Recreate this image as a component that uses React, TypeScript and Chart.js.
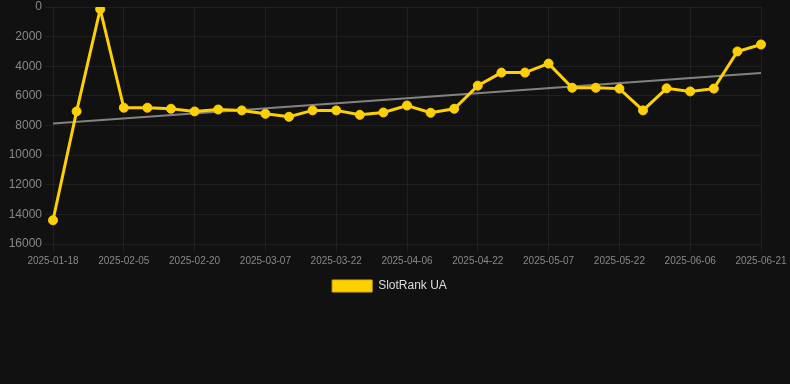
import React, { useEffect, useRef } from "react";
import { Chart, registerables } from "chart.js";

Chart.register(...registerables);

const labels = [
  "2025-01-18", "2025-01-24", "2025-01-30", "2025-02-05", "2025-02-10", "2025-02-15",
  "2025-02-20", "2025-02-25", "2025-03-02", "2025-03-07", "2025-03-12", "2025-03-17",
  "2025-03-22", "2025-03-27", "2025-04-01", "2025-04-06", "2025-04-11", "2025-04-17",
  "2025-04-22", "2025-04-27", "2025-05-02", "2025-05-07", "2025-05-12", "2025-05-17",
  "2025-05-22", "2025-05-27", "2025-06-01", "2025-06-06", "2025-06-11", "2025-06-16",
  "2025-06-21",
];

const rankValues = [
  14400, 7050, 150, 6800, 6800, 6870, 7050, 6920, 6980, 7210, 7410, 6980,
  6980, 7280, 7120, 6650, 7140, 6870, 5310, 4430, 4430, 3820, 5450, 5450,
  5510, 6980, 5490, 5700, 5510, 3000, 2530,
];

const trendStart = 7865;
const trendEnd = 4450;

const yTicks = [0, 2000, 4000, 6000, 8000, 10000, 12000, 14000, 16000];

export default function App() {
  const ref = useRef<HTMLCanvasElement | null>(null);

  useEffect(() => {
    document.body.style.margin = "0";
    document.body.style.background = "#111111";
    if (!ref.current) return;
    const trendData = labels.map((_, i) =>
      i === 0 ? trendStart : i === labels.length - 1 ? trendEnd : null
    );
    const defaultGen = Chart.defaults.plugins.legend.labels.generateLabels;
    const chart = new Chart(ref.current, {
      type: "line",
      data: {
        labels,
        datasets: [
          {
            label: "SlotRank UA",
            data: rankValues,
            borderColor: "#FFD000",
            backgroundColor: "#FFD000",
            borderWidth: 3,
            pointRadius: 4.5,
            pointBackgroundColor: "#FFD000",
            pointBorderColor: "#FFD000",
            pointBorderWidth: 1,
            tension: 0,
          },
          {
            label: "trend",
            data: trendData,
            borderColor: "rgba(150,150,150,0.85)",
            borderWidth: 2,
            pointRadius: 0,
            spanGaps: true,
            fill: false,
          },
        ],
      },
      options: {
        animation: false,
        responsive: false,
        maintainAspectRatio: false,
        layout: { padding: { left: 0, right: 11, top: 0, bottom: 0 } },
        plugins: {
          legend: {
            position: "bottom",
            labels: {
              color: "#dddddd",
              font: { family: "Arial, 'Liberation Sans', sans-serif", size: 12 },
              boxWidth: 40,
              boxHeight: 12,
              filter: (item) => item.text !== "trend",
              generateLabels: (c) =>
                defaultGen(c).map((it) => ({ ...it, lineWidth: 1, strokeStyle: "#d9b000" })),
            },
          },
          tooltip: { enabled: false },
        },
        scales: {
          x: {
            grid: { color: "rgba(255,255,255,0.06)", tickLength: 8 },
            border: { display: false },
            afterFit: (axis: any) => {
              axis.paddingRight = 29;
            },
            ticks: {
              color: "#888888",
              font: { family: "Arial, 'Liberation Sans', sans-serif", size: 10 },
              maxRotation: 0,
              autoSkip: true,
              maxTicksLimit: 11,
            },
          },
          y: {
            reverse: true,
            min: 0,
            max: 16000,
            afterBuildTicks: (axis) => {
              axis.ticks = yTicks.map((v) => ({ value: v }));
            },
            afterFit: (axis: any) => {
              axis.width = 53;
              axis.paddingTop = 7;
            },
            grid: { color: "rgba(255,255,255,0.06)", tickLength: 8 },
            border: { display: false },
            ticks: {
              color: "#888888",
              font: { family: "Arial, 'Liberation Sans', sans-serif", size: 12 },
              callback: (v) => String(v),
            },
          },
        },
      },
    });
    return () => chart.destroy();
  }, []);

  return (
    <div style={{ width: 790, height: 384, background: "#111111" }}>
      <canvas ref={ref} width={790} height={302} style={{ display: "block" }} />
    </div>
  );
}
